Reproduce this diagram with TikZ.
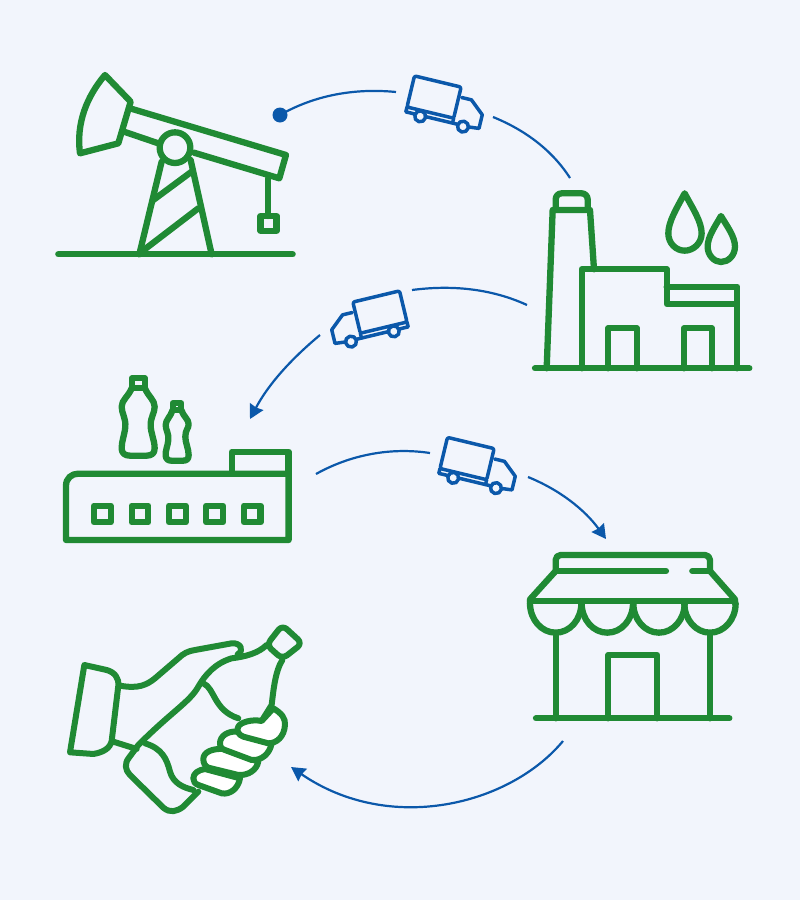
\documentclass[tikz,border=0pt]{standalone}
\usetikzlibrary{arrows.meta}
\definecolor{pagebg}{RGB}{242,245,252}
\definecolor{leaf}{RGB}{32,138,52}
\definecolor{route}{RGB}{11,88,170}
\tikzstyle{icon} = [draw=leaf, line width=6.3pt, line cap=round, line join=round]
\tikzstyle{thinicon} = [draw=leaf, line width=6pt, line cap=round, line join=round]
\tikzstyle{flow} = [draw=route, line width=2.2pt]
\tikzstyle{flowtip} = [flow, -{Stealth[inset=1pt, length=14pt, width=15pt]}]
\tikzstyle{trucklines} = [draw=route, line width=3.5pt, line cap=round, line join=round]
% one icon unit is a third of a pixel, which makes the curves easier to place
\tikzstyle{fine} = [x=0.3333pt, y=-0.3333pt]
\tikzset{truck/.pic={
    \path[trucklines, rounded corners=2pt] (0,0) -- (0,-32) -- (48,-32) -- (48,0) -- cycle;
    \path[trucklines] (0,0) -- (0,5) -- (9,5);
    \path[trucklines] (20,5) -- (53,5);
    \path[trucklines] (48,0) -- (48,5);
    \path[trucklines] (51,-22) -- (61,-22) -- (75,-10) -- (75,4) -- (65,5);
    \path[trucklines] (15,6) circle (5.5);
    \path[trucklines] (59,6) circle (5.5);
}}

\begin{document}
\begin{tikzpicture}[x=1pt, y=-1pt]
    \useasboundingbox (0,0) rectangle (800,900);
    \fill[pagebg] (0,0) rectangle (800,900);

    % pump jack
    \begin{scope}[shift={(50,60)}, fine]
        \path[icon] (25,583) -- (728,583);
        \path[icon] (165,45) -- (242,125) -- (205,250) -- (90,280)
            .. controls (78,190) and (110,110) .. cycle;
        \path[icon] (240,145) -- (708,285) -- (688,355) -- (432,278);
        \path[icon] (222,215) -- (325,250);
        \path[icon] (375,263) circle (46);
        \path[icon] (335,305) -- (268,583);
        \path[icon] (422,300) -- (485,583);
        \path[icon] (310,420) -- (425,335);
        \path[icon] (275,575) -- (445,445);
        \path[icon] (655,355) -- (655,468);
        \path[icon] (632,468) rectangle (680,512);
    \end{scope}

    % refinery
    \begin{scope}[shift={(520,180)}, fine]
        \path[icon] (45,565) -- (688,565);
        \path[icon] (80,565) -- (98,90) -- (210,90) -- (222,268);
        \path[icon, rounded corners=6pt] (107,90) -- (107,40) -- (203,40) -- (203,90);
        \path[icon] (185,565) -- (185,268) -- (440,268) -- (440,372) -- (650,372);
        \path[icon] (440,320) -- (652,320) -- (652,565);
        \path[icon] (265,565) -- (265,445) -- (350,445) -- (350,565);
        \path[icon] (492,565) -- (492,445) -- (575,445) -- (575,565);
        \path[icon] (494,40) .. controls (470,85) and (445,125) .. (445,160)
            .. controls (445,190) and (468,212) .. (494,212)
            .. controls (520,212) and (545,190) .. (545,160)
            .. controls (545,125) and (518,85) .. cycle;
        \path[icon] (603,108) .. controls (585,140) and (563,170) .. (563,200)
            .. controls (563,226) and (583,246) .. (603,246)
            .. controls (625,246) and (645,226) .. (645,200)
            .. controls (645,170) and (622,140) .. cycle;
    \end{scope}

    % bottling plant
    \begin{scope}[shift={(50,365)}, fine]
        \path[icon] (85,326) -- (716,326) -- (716,525) -- (48,525) -- (48,362)
            .. controls (48,340) and (65,326) .. cycle;
        \path[icon] (546,326) -- (546,260) -- (716,260) -- (716,326);
        \foreach \winx in {157,270,382,494,607}
            \path[icon] (\winx-25,422) rectangle (\winx+25,472);
        \path[icon] (246,40) rectangle (284,68);
        \path[icon] (246,68) .. controls (235,95) and (215,105) .. (215,125)
            .. controls (215,145) and (228,160) .. (226,185)
            .. controls (224,210) and (214,230) .. (215,252)
            .. controls (216,265) and (225,272) .. (240,272)
            -- (290,272) .. controls (305,272) and (314,265) .. (314,250)
            .. controls (314,225) and (302,205) .. (302,180)
            .. controls (302,155) and (314,145) .. (314,125)
            .. controls (314,105) and (295,95) .. (284,68);
        \path[icon] (368,115) rectangle (394,135);
        \path[icon] (368,135) .. controls (362,155) and (347,165) .. (347,180)
            .. controls (347,195) and (357,205) .. (355,225)
            .. controls (353,245) and (346,255) .. (347,272)
            .. controls (348,282) and (354,287) .. (364,287)
            -- (400,287) .. controls (410,287) and (416,282) .. (416,270)
            .. controls (416,250) and (406,235) .. (406,215)
            .. controls (406,195) and (416,190) .. (416,178)
            .. controls (416,162) and (400,155) .. (394,135);
    \end{scope}

    % shop
    \begin{scope}[shift={(520,540)}, fine]
        \path[icon] (48,535) -- (628,535);
        \path[icon, rounded corners=5pt] (107,93) -- (107,45) -- (570,45) -- (570,93);
        \path[icon] (107,93) -- (438,93);
        \path[icon] (517,93) -- (570,93);
        \path[icon] (107,93) -- (30,178) -- (30,190);
        \path[icon] (570,93) -- (645,178) -- (645,190);
        \path[icon] (30,183) -- (645,183);
        \foreach \awnx in {107,262,417,570}
            \path[icon] (\awnx-77,190) arc[start angle=180, end angle=0, x radius=77, y radius=88];
        \path[icon] (107,280) -- (107,535);
        \path[icon] (570,280) -- (570,535);
        \path[icon] (265,535) -- (265,345) -- (412,345) -- (412,535);
    \end{scope}

    % hand with bottle
    \begin{scope}[shift={(55,615)}, fine]
        \path[thinicon] (88,150) -- (155,165) .. controls (180,172) and (192,190) .. (190,212)
            -- (170,378) .. controls (165,400) and (145,412) .. (115,417) -- (45,412) -- cycle;
        \path[thinicon] (195,212) .. controls (250,222) and (275,210) .. (300,190)
            -- (370,130) .. controls (385,115) and (400,108) .. (420,105)
            -- (530,85) .. controls (555,82) and (570,105) .. (548,118);
        \path[thinicon, rounded corners=6pt] (682,30) -- (742,85) -- (682,132) -- (635,90) -- cycle;
        \path[thinicon] (635,90) .. controls (610,115) and (570,125) .. (530,130)
            .. controls (480,145) and (450,180) .. (430,215)
            .. controls (405,260) and (350,290) .. (250,390)
            -- (222,428) .. controls (208,445) and (210,465) .. (225,480)
            -- (325,578) .. controls (345,595) and (365,590) .. (385,575) -- (430,530);
        \path[thinicon] (682,135) .. controls (660,170) and (655,230) .. (650,270) -- (620,318);
        \path[thinicon] (445,205) .. controls (480,220) and (475,285) .. (550,310);
        \path[thinicon] (270,385) .. controls (320,400) and (335,430) .. (345,470)
            .. controls (355,505) and (385,518) .. (415,525);
        \path[thinicon] (175,380) -- (245,402);
        % fingers, lowest one first
        \path[thinicon, fill=white] (450,462) .. controls (430,465) and (415,475) .. (415,490)
            .. controls (415,500) and (420,506) .. (430,510) -- (500,535)
            .. controls (525,540) and (550,520) .. (555,490) -- cycle;
        \path[thinicon, fill=white] (505,402) .. controls (475,400) and (445,410) .. (445,432)
            .. controls (445,445) and (450,453) .. (460,458) -- (550,480)
            .. controls (580,482) and (605,465) .. (610,440) -- cycle;
        \path[thinicon, fill=white] (545,350) .. controls (520,348) and (495,362) .. (495,385)
            .. controls (495,395) and (500,402) .. (510,405) -- (590,435)
            .. controls (620,438) and (645,415) .. (650,385) -- cycle;
        \path[thinicon, fill=white] (655,280) .. controls (680,295) and (692,310) .. (690,330)
            .. controls (688,365) and (665,385) .. (640,385) -- (565,365)
            .. controls (550,360) and (543,345) .. (550,335)
            .. controls (556,322) and (590,312) .. (620,318) -- cycle;
    \end{scope}

    \pic at (407,107) [rotate=-13.5] {truck};
    \pic at (407,322) [rotate=13.5, xscale=-1] {truck};
    \pic at (440,468.5) [rotate=-13.5] {truck};

    % ends of the route pieces
    \coordinate (wellout) at (280,115);
    \coordinate (truckonein) at (396,92);
    \coordinate (truckoneout) at (493,117);
    \coordinate (refineryin) at (570,178);
    \coordinate (refineryout) at (527,305);
    \coordinate (trucktwoin) at (412,290);
    \coordinate (trucktwoout) at (320,335);
    \coordinate (plantin) at (250,419);
    \coordinate (plantout) at (316,474);
    \coordinate (truckthreein) at (430,453);
    \coordinate (truckthreeout) at (528,477);
    \coordinate (shopin) at (606,539);
    \coordinate (shopout) at (563,741);
    \coordinate (handin) at (291,767);

    \fill[route] (wellout) circle (7.5);
    \path[flow] (wellout) .. controls (315,95) and (355,88) .. (truckonein);
    \path[flow] (truckoneout) .. controls (525,130) and (552,150) .. (refineryin);
    \path[flow] (refineryout) .. controls (490,288) and (450,285) .. (trucktwoin);
    \path[flowtip] (trucktwoout) .. controls (290,360) and (268,385) .. (plantin);
    \path[flow] (plantout) .. controls (350,455) and (390,447) .. (truckthreein);
    \path[flowtip] (truckthreeout) .. controls (560,490) and (585,510) .. (shopin);
    \path[flowtip] (shopout) .. controls (510,805) and (390,835) .. (handin);
\end{tikzpicture}
\end{document}
